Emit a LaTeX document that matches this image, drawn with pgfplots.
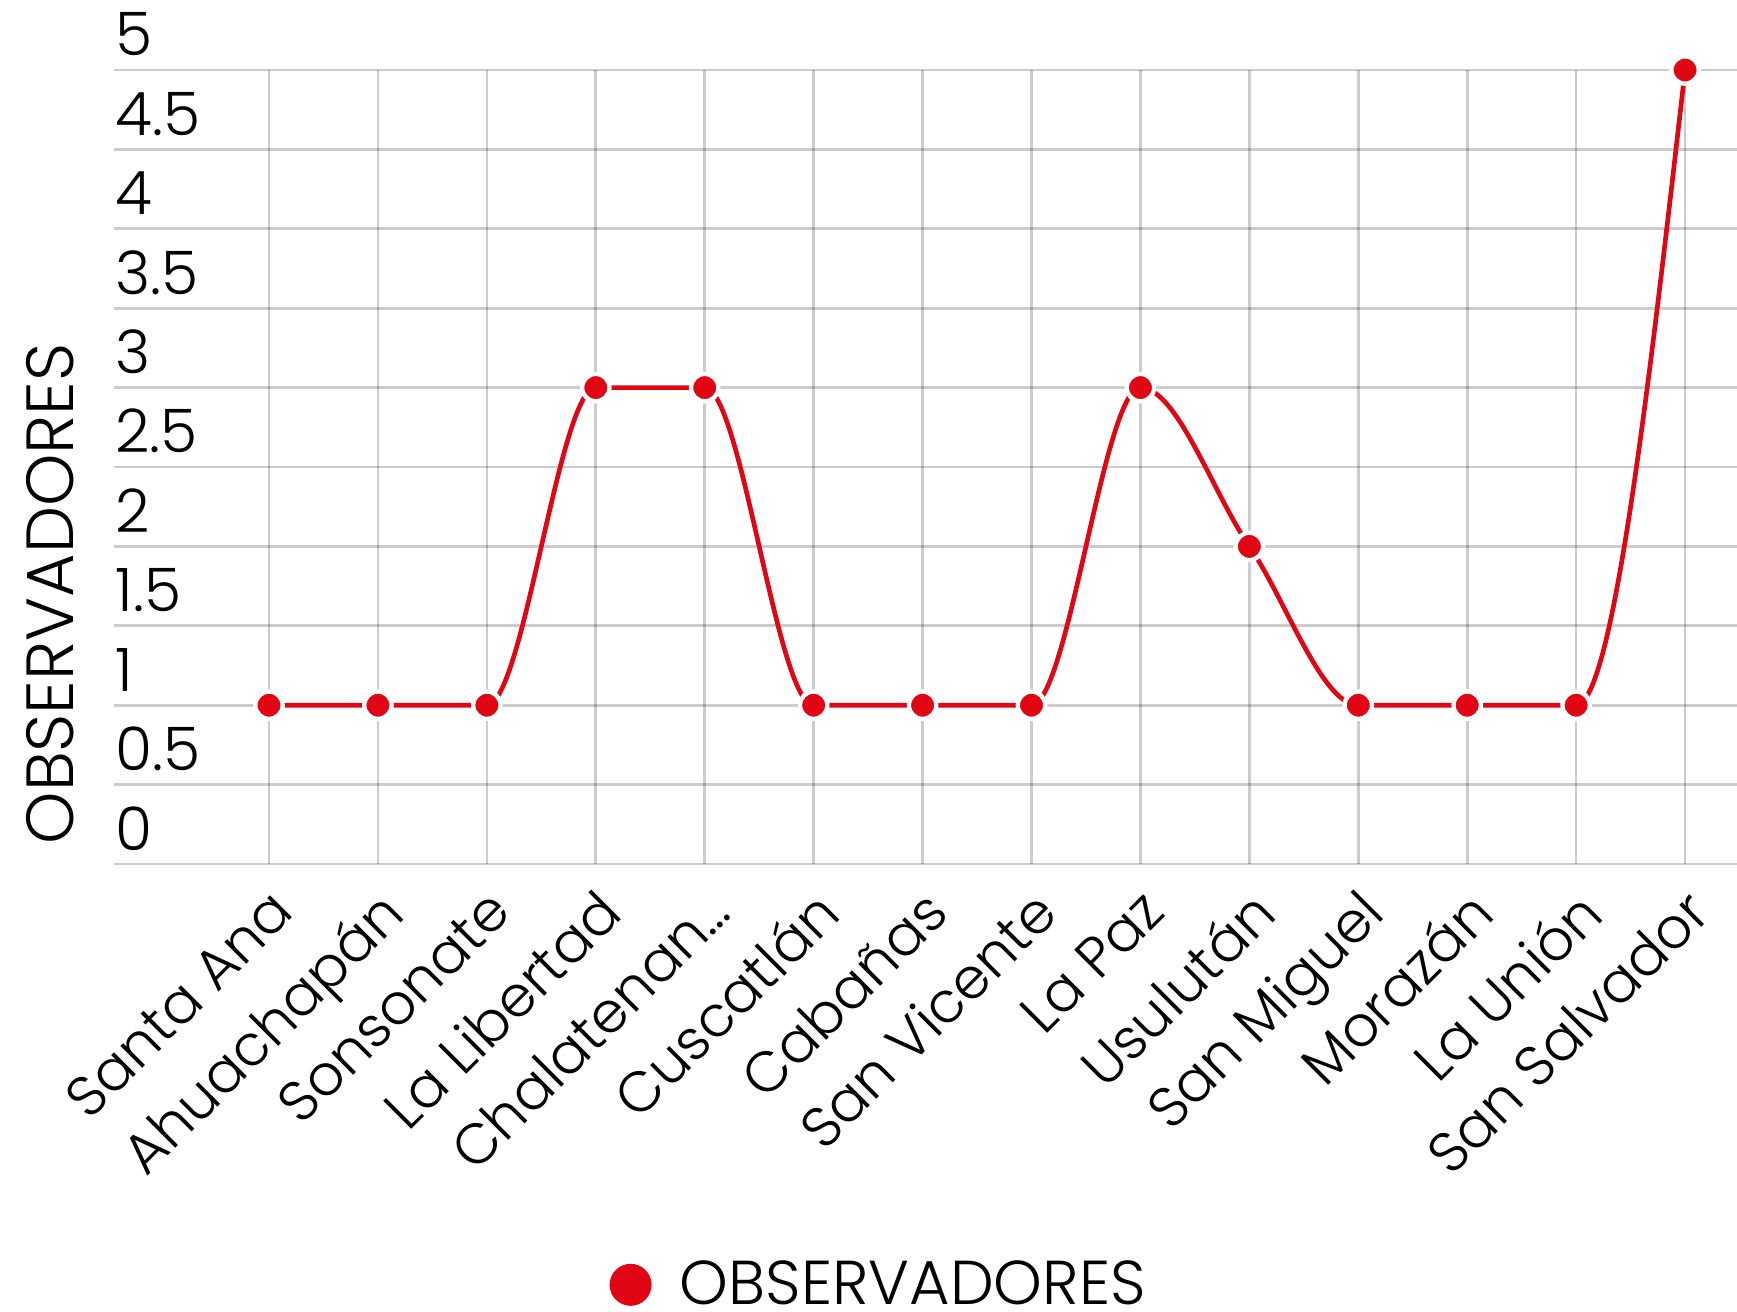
\documentclass[border=0pt]{standalone}
\usepackage{fontspec}
\setmainfont{Poppins}[UprightFont={* Light}]
\usepackage{pgfplots}
\pgfplotsset{compat=1.18}
\definecolor{myred}{RGB}{225,6,19}

\makeatletter
% monotone cubic plot handler (horizontal tangents at extrema / plateaus)
\def\pgfplothandlermonotone{%
  \def\pgf@plotstreamstart{%
    \global\let\pgf@plotstreampoint=\mono@handler@first
    \global\let\pgf@plotstreamspecial=\pgfutil@gobble
    \global\let\pgf@plotstreamend=\mono@handler@end
    \gdef\mono@stage{0}%
  }%
}
\def\mono@handler@first#1{%
  \pgf@process{#1}%
  \pgf@plot@first@action{\pgfqpoint{\pgf@x}{\pgf@y}}%
  \xdef\mono@xa{\pgf@sys@tonumber\pgf@x}%
  \xdef\mono@ya{\pgf@sys@tonumber\pgf@y}%
  \gdef\mono@stage{1}%
  \global\let\pgf@plotstreampoint=\mono@handler@next
}
\def\mono@handler@next#1{%
  \pgf@process{#1}%
  \ifnum\mono@stage=1\relax
    \xdef\mono@xb{\pgf@sys@tonumber\pgf@x}%
    \xdef\mono@yb{\pgf@sys@tonumber\pgf@y}%
    \gdef\mono@stage{2}%
  \else
    \xdef\mono@xc{\pgf@sys@tonumber\pgf@x}%
    \xdef\mono@yc{\pgf@sys@tonumber\pgf@y}%
    \pgfmathsetmacro\mono@hzero{\mono@xb-\mono@xa}%
    \pgfmathsetmacro\mono@hone{\mono@xc-\mono@xb}%
    \pgfmathsetmacro\mono@szero{(\mono@yb-\mono@ya)/\mono@hzero}%
    \pgfmathsetmacro\mono@sone{(\mono@yc-\mono@yb)/\mono@hone}%
    \pgfmathsetmacro\mono@p{(\mono@szero*\mono@hone+\mono@sone*\mono@hzero)/(\mono@hzero+\mono@hone)}%
    \pgfmathsetmacro\mono@mbtmp{(sign(\mono@szero)+sign(\mono@sone))*min(abs(\mono@szero),abs(\mono@sone),0.5*abs(\mono@p))}%
    \xdef\mono@mb{\mono@mbtmp}%
    \ifnum\mono@stage=2\relax
      \pgfmathsetmacro\mono@matmp{(3*\mono@szero-\mono@mb)/2}%
      \xdef\mono@ma{\mono@matmp}%
      \gdef\mono@stage{3}%
    \fi
    \mono@segment{\mono@mb}%
    \xdef\mono@xa{\mono@xb}\xdef\mono@ya{\mono@yb}%
    \xdef\mono@xb{\mono@xc}\xdef\mono@yb{\mono@yc}%
    \xdef\mono@ma{\mono@mb}%
  \fi
}
\def\mono@segment#1{%
  \pgfmathsetmacro\mono@dx{(\mono@xb-\mono@xa)/3}%
  \pgfmathsetmacro\mono@cax{\mono@xa+\mono@dx}%
  \pgfmathsetmacro\mono@cay{\mono@ya+\mono@dx*\mono@ma}%
  \pgfmathsetmacro\mono@cbx{\mono@xb-\mono@dx}%
  \pgfmathsetmacro\mono@cby{\mono@yb-\mono@dx*#1}%
  \pgfpathcurveto{\pgfqpoint{\mono@cax pt}{\mono@cay pt}}{\pgfqpoint{\mono@cbx pt}{\mono@cby pt}}{\pgfqpoint{\mono@xb pt}{\mono@yb pt}}%
}
\def\mono@handler@end{%
  \ifnum\mono@stage=2\relax
    \pgfpathlineto{\pgfqpoint{\mono@xb pt}{\mono@yb pt}}%
  \else\ifnum\mono@stage=3\relax
    \pgfmathsetmacro\mono@s{(\mono@yb-\mono@ya)/(\mono@xb-\mono@xa)}%
    \pgfmathsetmacro\mono@mlast{(3*\mono@s-\mono@ma)/2}%
    \mono@segment{\mono@mlast}%
  \fi\fi
}
\tikzset{monotone/.code={\let\tikz@plot@handler=\pgfplothandlermonotone}}
\makeatother

\begin{document}
\begin{tikzpicture}
\path[use as bounding box] (0pt,0pt) rectangle (521.1pt,393.3pt);
\begin{axis}[
  at={(34.2pt,134.1pt)}, anchor=south west,
  scale only axis, width=486.9pt, height=238.2pt,
  xmin=-1.423, xmax=13.477, ymin=0, ymax=5,
  clip=false,
  axis line style={draw=none},
  major tick length=0pt,
  tick style={draw=none},
  xmajorgrids, ymajorgrids,
  grid style={line width=0.8pt, color=black, opacity=0.2},
  xtick={0,...,13},
  xticklabels={Santa Ana,Ahuachapán,Sonsonate,La Libertad,Chalatenan…,Cuscatlán,Cabañas,San Vicente,La Paz,Usulután,San Miguel,Morazán,La Unión,San Salvador},
  xticklabel style={xshift=-0.5pt, yshift=-6.5pt, rotate=45, anchor=north east, inner sep=0pt, font=\fontsize{17}{20}\selectfont},
  ytick={0,0.5,1,1.5,2,2.5,3,3.5,4,4.5,5},
  yticklabels={0,0.5,1,1.5,2,2.5,3,3.5,4,4.5,5},
  yticklabel style={anchor=base west, inner sep=0pt, xshift=0.3pt, yshift=4.2pt, font=\fontsize{18}{21}\selectfont},
  ylabel={OBSERVADORES},
  every axis y label/.style={at={(rel axis cs:-0.0394,0.340)}, rotate=90, anchor=center, font=\fontsize{20}{24}\selectfont},
  legend style={at={(rel axis cs:0.4726,-0.530)}, anchor=center, draw=none, fill=none, font=\fontsize{18.6}{22}\selectfont},
  legend image code/.code={\fill[myred, draw=none] (0pt,0pt) circle (6.3pt); \path[draw=none, fill=none] (0pt,0pt) -- (12.8pt,0pt);},
]
\addplot[monotone, color=myred, line width=1.4pt, mark=*, mark size=4.1pt,
  mark options={fill=myred, draw=white, line width=1.3pt}]
  coordinates {(0,1) (1,1) (2,1) (3,3) (4,3) (5,1) (6,1) (7,1) (8,3) (9,2) (10,1) (11,1) (12,1) (13,5)};
\addlegendentry{OBSERVADORES}
\end{axis}
\end{tikzpicture}
\end{document}
